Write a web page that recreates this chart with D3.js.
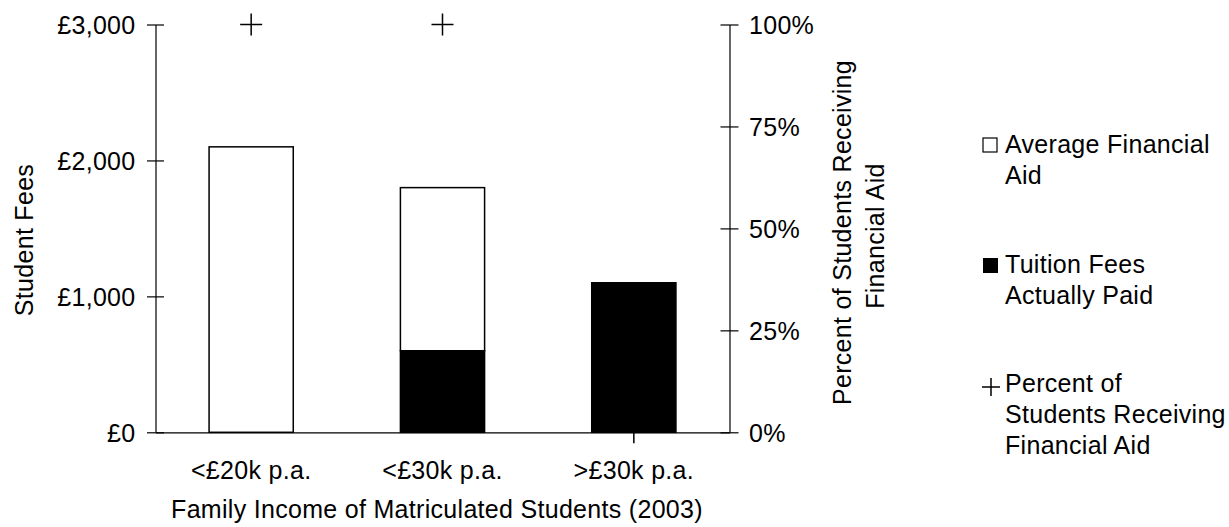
<!DOCTYPE html>
<html>
<head>
<meta charset="utf-8">
<script src="https://cdn.jsdelivr.net/npm/d3@7"></script>
<style>
  html, body { margin: 0; padding: 0; background: #fff; }
  svg { display: block; }
  text { font-family: "Liberation Sans", Arial, sans-serif; font-size: 25px; fill: #000; letter-spacing: 0.3px; }
</style>
</head>
<body>
<svg id="chart" width="1229" height="527"></svg>
<script>
const categories = ["<£20k p.a.", "<£30k p.a.", ">£30k p.a."];
const feesPaid = [0, 600, 1100];          // Tuition Fees Actually Paid
const financialAid = [2100, 1200, 0];     // Average Financial Aid (stacked on top)
const percentAid = [1.0, 1.0, 0.0];       // Percent of Students Receiving Financial Aid
const leftTicks = [0, 1000, 2000, 3000];
const rightTicks = [0, 0.25, 0.5, 0.75, 1.0];
const legendItems = [
  { key: "aid", lines: ["Average Financial", "Aid"] },
  { key: "paid", lines: ["Tuition Fees", "Actually Paid"] },
  { key: "pct", lines: ["Percent of", "Students Receiving", "Financial Aid"] }
];

const FONT = '"Liberation Sans", Arial, sans-serif';
const svg = d3.select("#chart");
const x0 = 155.5, x1 = 729.5, yTop = 24.5, yBot = 432.3;

const x = d3.scaleBand().domain(categories).range([x0, x1]).paddingInner(0.56).paddingOuter(0.28);
const yL = d3.scaleLinear().domain([0, 3000]).range([yBot, yTop]);
const yR = d3.scaleLinear().domain([0, 1]).range([yBot, yTop]);

// Bars: paid (black) at bottom, aid (white) on top
const g = svg.append("g");
categories.forEach((c, i) => {
  if (feesPaid[i] > 0) {
    g.append("rect")
      .attr("x", x(c)).attr("width", x.bandwidth())
      .attr("y", yL(feesPaid[i])).attr("height", yL(0) - yL(feesPaid[i]))
      .attr("fill", "#000").attr("stroke", "#000").attr("stroke-width", 1.5);
  }
  if (financialAid[i] > 0) {
    const base = feesPaid[i], top = feesPaid[i] + financialAid[i];
    g.append("rect")
      .attr("x", x(c)).attr("width", x.bandwidth())
      .attr("y", yL(top)).attr("height", yL(base) - yL(top))
      .attr("fill", "#fff").attr("stroke", "#000").attr("stroke-width", 1.5);
  }
});

// Left axis
const leftAxis = d3.axisLeft(yL).tickValues(leftTicks)
  .tickFormat(d => "£" + d3.format(",")(d)).tickSizeInner(8.5).tickSizeOuter(0).tickPadding(12);
const la = svg.append("g").attr("transform", `translate(${x0},0)`).call(leftAxis);
la.attr("font-size", null).attr("font-family", null);
la.select(".domain").attr("stroke", "#000").attr("stroke-width", 1.2);
la.selectAll(".tick line").attr("x2", 8.5).attr("x1", -8.5).attr("stroke", "#000").attr("stroke-width", 1.2);
la.selectAll(".tick text").attr("x", -20).attr("dy", null).attr("y", 9)
  .style("font-size", "25px").style("font-family", FONT);

// Right axis
const rightAxis = d3.axisRight(yR).tickValues(rightTicks)
  .tickFormat(d3.format(".0%")).tickSizeInner(9).tickSizeOuter(0).tickPadding(10);
const ra = svg.append("g").attr("transform", `translate(${x1},0)`).call(rightAxis);
ra.attr("font-size", null).attr("font-family", null);
ra.select(".domain").attr("stroke", "#000").attr("stroke-width", 1.2);
ra.selectAll(".tick line").attr("x1", -9).attr("x2", 9).attr("stroke", "#000").attr("stroke-width", 1.2);
ra.selectAll(".tick text").attr("x", 19.5).attr("dy", null).attr("y", 9)
  .style("font-size", "25px").style("font-family", FONT);

// Bottom axis (category)
const bottomAxis = d3.axisBottom(x).tickSize(0).tickPadding(0);
const ba = svg.append("g").attr("transform", `translate(0,${yBot})`).call(bottomAxis);
ba.attr("font-size", null).attr("font-family", null);
ba.select(".domain").attr("stroke", "#000").attr("stroke-width", 1.2);
ba.selectAll(".tick text").attr("y", 47).attr("dy", null)
  .style("font-size", "25px").style("font-family", FONT);

// Plus markers
function plusPath(cx, cy, r) {
  return `M${cx - r},${cy}H${cx + r}M${cx},${cy - r}V${cy + r}`;
}
svg.append("g").selectAll("path").data(categories).join("path")
  .attr("d", (c, i) => plusPath(x(c) + x.bandwidth() / 2, yR(percentAid[i]), 11))
  .attr("stroke", "#000").attr("stroke-width", 1.5).attr("fill", "none");

// Axis titles
svg.append("text").attr("transform", "translate(33,240) rotate(-90)")
  .attr("text-anchor", "middle").text("Student Fees");
svg.append("text").attr("x", 437).attr("y", 518)
  .attr("text-anchor", "middle").text("Family Income of Matriculated Students (2003)");
svg.append("text").attr("transform", "translate(851,232.5) rotate(-90)")
  .attr("text-anchor", "middle").text("Percent of Students Receiving");
svg.append("text").attr("transform", "translate(884,236) rotate(-90)")
  .attr("text-anchor", "middle").text("Financial Aid");

// Legend
const legendBase = [153, 273, 392];
const lg = svg.append("g");
legendItems.forEach((item, i) => {
  const by = legendBase[i];
  if (item.key === "aid") {
    lg.append("rect").attr("x", 983).attr("y", by - 15).attr("width", 14).attr("height", 14)
      .attr("fill", "#fff").attr("stroke", "#000").attr("stroke-width", 1.2);
  } else if (item.key === "paid") {
    lg.append("rect").attr("x", 983).attr("y", by - 15).attr("width", 15).attr("height", 15)
      .attr("fill", "#000");
  } else {
    lg.append("path").attr("d", plusPath(991, by - 5, 9))
      .attr("stroke", "#000").attr("stroke-width", 1.5).attr("fill", "none");
  }
  const t = lg.append("text").attr("x", 1005).attr("y", by);
  item.lines.forEach((ln, j) => {
    t.append("tspan").attr("x", 1005).attr("y", by + j * 31).text(ln);
  });
});
</script>
</body>
</html>
